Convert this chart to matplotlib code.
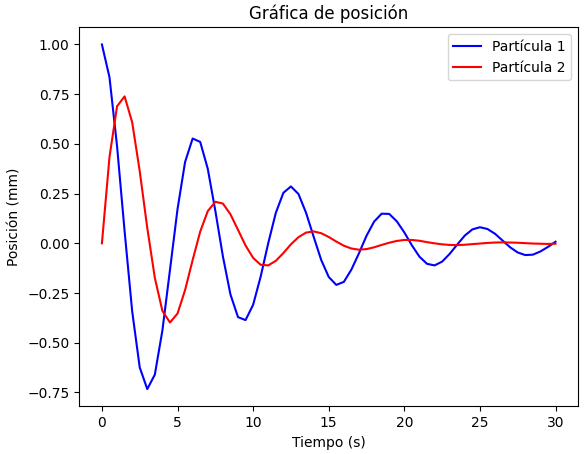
import matplotlib
matplotlib.use("Agg")
import matplotlib.pyplot as plt

# time samples (s), read every 0.5 s
tiempo = [i * 0.5 for i in range(61)]

# Partícula 1 position (mm)
particula1 = [1.000, 0.835, 0.489, 0.061, -0.341, -0.624, -0.733, -0.660, -0.438, -0.134,
              0.172, 0.409, 0.527, 0.510, 0.375, 0.164, -0.065, -0.257, -0.371, -0.386,
              -0.309, -0.167, 0.001, 0.153, 0.254, 0.286, 0.248, 0.154, 0.034, -0.083,
              -0.169, -0.209, -0.194, -0.132, -0.050, 0.038, 0.109, 0.149, 0.148, 0.111,
              0.055, -0.010, -0.067, -0.103, -0.111, -0.092, -0.053, -0.006, 0.039, 0.070,
              0.081, 0.072, 0.048, 0.014, -0.020, -0.046, -0.059, -0.057, -0.041, -0.018,
              0.008]

# Partícula 2 position (mm)
particula2 = [0.000, 0.434, 0.689, 0.739, 0.609, 0.363, 0.077, -0.174, -0.340, -0.398,
              -0.353, -0.235, -0.084, 0.059, 0.162, 0.209, 0.200, 0.146, 0.068, -0.011,
              -0.073, -0.108, -0.111, -0.088, -0.049, -0.005, 0.031, 0.054, 0.060, 0.051,
              0.032, 0.009, -0.012, -0.026, -0.032, -0.029, -0.020, -0.008, 0.003, 0.012,
              0.017, 0.017, 0.013, 0.006, 0.000, -0.005, -0.008, -0.009, -0.007, -0.004,
              -0.001, 0.002, 0.004, 0.005, 0.004, 0.003, 0.001, -0.001, -0.002, -0.003,
              -0.002]

fig, ax = plt.subplots(figsize=(5.87, 4.54), dpi=100)
ax.plot(tiempo, particula1, color="blue", label="Partícula 1")
ax.plot(tiempo, particula2, color="red", label="Partícula 2")
ax.set_title("Gráfica de posición")
ax.set_xlabel("Tiempo (s)")
ax.set_ylabel("Posición (mm)")
ax.legend(loc="upper right")
fig.subplots_adjust(left=0.135, right=0.985, top=0.94, bottom=0.105)
fig.savefig("out.png", dpi=100)
